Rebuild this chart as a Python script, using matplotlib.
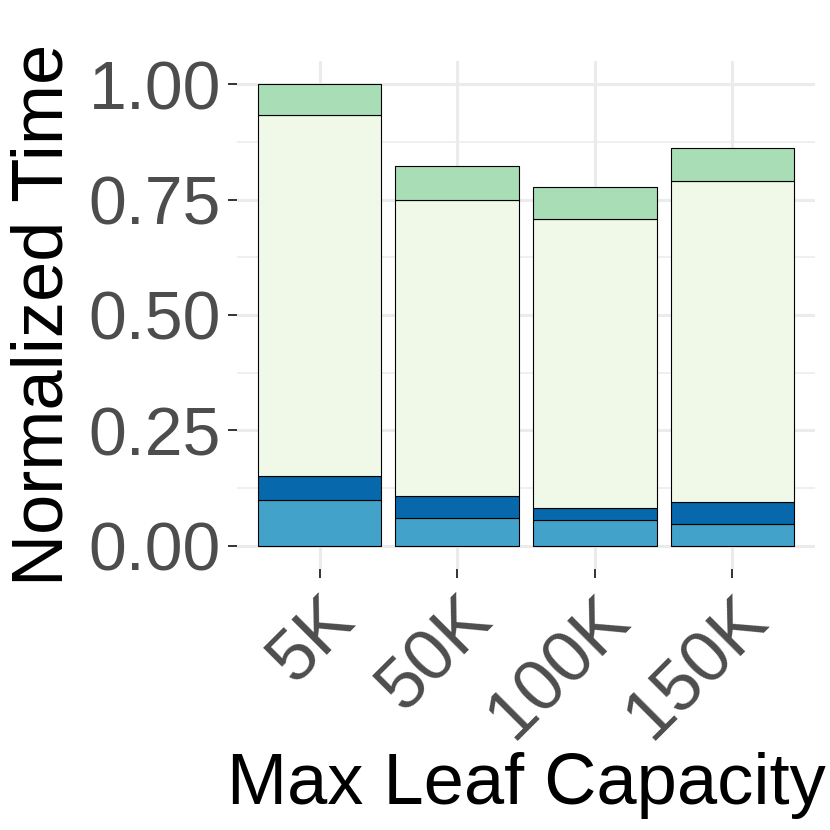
import matplotlib
matplotlib.use('Agg')
import matplotlib.pyplot as plt
import numpy as np

plt.rcParams['font.family'] = ['Liberation Sans', 'DejaVu Sans']

# data (normalized time, stacked bottom -> top)
capacities = ['5K', '50K', '100K', '150K']
seg1 = [0.100, 0.061, 0.056, 0.048]
seg2 = [0.052, 0.048, 0.027, 0.047]
seg3 = [0.780, 0.641, 0.625, 0.696]
seg4 = [0.068, 0.072, 0.070, 0.070]
seg_colors = ['#43A2CA', '#0868AC', '#F0F9E8', '#A8DDB5']

fig = plt.figure(figsize=(8.3, 8.3), dpi=100)
ax = fig.add_axes([0.2855, 0.3145, 0.982 - 0.2855, 0.9265 - 0.3145])

x = np.arange(1, len(capacities) + 1)
bottom = np.zeros(len(capacities))
for vals, col in zip([seg1, seg2, seg3, seg4], seg_colors):
    ax.bar(x, vals, width=0.9, bottom=bottom, color=col, edgecolor='black',
           linewidth=0.8, zorder=3)
    bottom += np.array(vals)

ax.set_xlim(0.4, 4.6)
ax.set_ylim(-0.05, 1.05)
ax.set_yticks([0, 0.25, 0.5, 0.75, 1.0])
ax.set_yticklabels(['0.00', '0.25', '0.50', '0.75', '1.00'])
ax.set_yticks([0.125, 0.375, 0.625, 0.875], minor=True)
ax.set_xticks(x)
ax.set_xticklabels(capacities, rotation=45, ha='right', va='top',
                   rotation_mode='anchor')

ax.grid(True, which='major', color='#EBEBEB', linewidth=2.2, zorder=0)
ax.grid(True, which='minor', axis='y', color='#EBEBEB', linewidth=1.1, zorder=0)
for s in ax.spines.values():
    s.set_visible(False)

ax.tick_params(axis='both', which='major', length=6.5, width=1.4,
               color='#333333', labelcolor='#4D4D4D', labelsize=52, pad=5)
ax.tick_params(axis='y', which='major', labelsize=49)
ax.tick_params(axis='both', which='minor', length=0)

ax.set_xlabel('Max Leaf Capacity', fontsize=52, color='black', labelpad=0)
ax.set_ylabel('Normalized Time', fontsize=52, color='black', labelpad=8)

fig.savefig('out.png', dpi=100, facecolor='white')
